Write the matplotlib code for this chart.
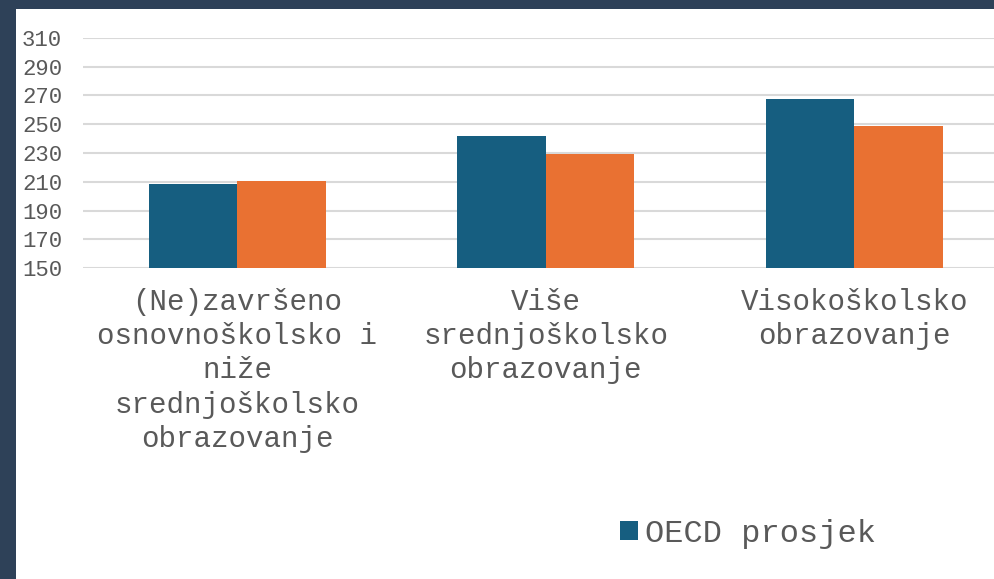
import matplotlib
matplotlib.use("Agg")
import matplotlib.pyplot as plt
from matplotlib.patches import Rectangle

categories = ["(Ne)završeno\nosnovnoškolsko i\nniže\nsrednjoškolsko\nobrazovanje",
              "Više\nsrednjoškolsko\nobrazovanje",
              "Visokoškolsko\nobrazovanje"]
oecd = [208.5, 241.8, 267.3]
other = [210.4, 229.1, 248.5]
series_label = "OECD prosjek"
yticks = [150, 170, 190, 210, 230, 250, 270, 290, 310]

W, H = 995, 579
fig = plt.figure(figsize=(W / 100, H / 100), dpi=100, facecolor="#2E4158")
fig.add_artist(Rectangle((16 / W, 0), 1, (H - 9) / H, transform=fig.transFigure,
                         facecolor="white", edgecolor="none", zorder=-10))

font = "Liberation Mono"
grey = "#595959"
ax = fig.add_axes([83 / W, (H - 268.3) / H, 925.5 / W, 230.6 / H])
ax.set_facecolor("none")
ax.set_zorder(1)

x = list(range(len(categories)))
bw = 0.287
b1 = ax.bar([i - bw / 2 for i in x], [v - 150 for v in oecd], bw, bottom=150,
            color="#165E80", label=series_label, zorder=3)
b2 = ax.bar([i + bw / 2 for i in x], [v - 150 for v in other], bw, bottom=150,
            color="#E97132", zorder=3)

ax.set_xlim(-0.5, 2.5)
ax.set_ylim(150, 310)
ax.set_yticks(yticks)
ax.set_yticklabels([str(t) for t in yticks], fontfamily=font, fontsize=16, color=grey)
ax.yaxis.grid(True, color="#D9D9D9", linewidth=1.5, zorder=0)
ax.set_axisbelow(True)
ax.tick_params(axis="y", length=0, pad=15)
ax.set_xticks(x)
ax.set_xticklabels(categories, fontfamily=font, fontsize=21, color=grey, linespacing=1.285)
ax.tick_params(axis="x", length=0, pad=14)
for s in ax.spines.values():
    s.set_visible(False)

leg = fig.legend(handles=[b1], labels=[series_label], loc="center left",
                 bbox_to_anchor=(620 / W, 1 - 534 / H), frameon=False, borderpad=0,
                 borderaxespad=0, handlelength=0.55, handleheight=0.55, handletextpad=0.22,
                 prop={"family": font, "size": 23}, labelcolor=grey)
leg.set_zorder(2)

fig.savefig("out.png", dpi=100, facecolor=fig.get_facecolor())
